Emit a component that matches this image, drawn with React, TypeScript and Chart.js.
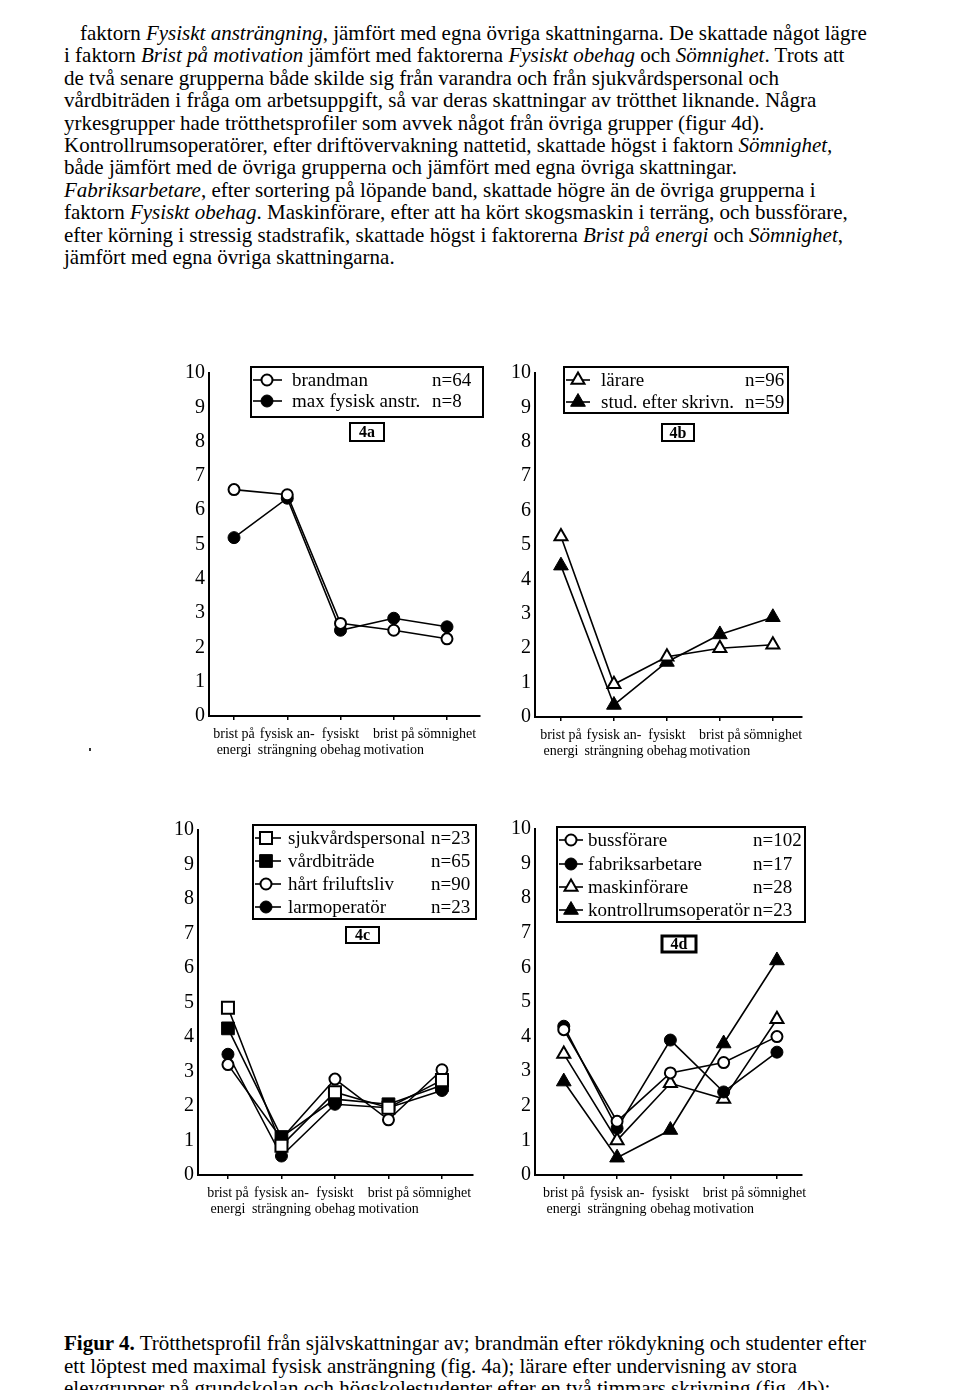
import React, { useEffect, useRef } from "react";
import { Chart, registerables } from "chart.js";

Chart.register(...registerables);

// ---------- data ----------
const categories: string[][] = [
  ["brist på", "energi"],
  ["fysisk an-", "strängning"],
  ["fysiskt", "obehag"],
  ["brist på", "motivation"],
  ["sömnighet"],
];
const yTickValues = [0, 1, 2, 3, 4, 5, 6, 7, 8, 9, 10];

// Figur 4a
const brandman = [6.6, 6.45, 2.7, 2.5, 2.25];
const maxFysiskAnstr = [5.2, 6.35, 2.5, 2.85, 2.6];
// Figur 4b
const larare = [5.25, 0.95, 1.75, 2.0, 2.1];
const studEfterSkrivn = [4.4, 0.35, 1.6, 2.4, 2.9];
// Figur 4c
const sjukvardspersonal = [4.85, 0.85, 2.4, 1.95, 2.75];
const vardbitrade = [4.25, 1.1, 2.2, 2.05, 2.6];
const hartFriluftsliv = [3.2, 1.05, 2.78, 1.6, 3.05];
const larmoperator = [3.5, 0.55, 2.05, 1.95, 2.45];
// Figur 4d
const bussforare = [4.2, 1.55, 2.95, 3.25, 4.0];
const fabriksarbetare = [4.3, 1.35, 3.9, 2.4, 3.55];
const maskinforare = [3.5, 1.0, 2.65, 2.2, 4.5];
const kontrollrumsoperator = [2.7, 0.5, 1.3, 3.8, 6.2];

// ---------- styles ----------
type MarkerKind =
  | "openCircle"
  | "filledCircle"
  | "openTriangle"
  | "filledTriangle"
  | "openSquare"
  | "filledSquare";

const markerStyle: Record<MarkerKind, { shape: "circle" | "triangle" | "rect"; r: number; fill: string; bw: number }> = {
  openCircle: { shape: "circle", r: 5.5, fill: "#fff", bw: 2 },
  filledCircle: { shape: "circle", r: 6, fill: "#000", bw: 1 },
  openTriangle: { shape: "triangle", r: 7.5, fill: "#fff", bw: 2 },
  filledTriangle: { shape: "triangle", r: 8.5, fill: "#000", bw: 1 },
  openSquare: { shape: "rect", r: 8.5, fill: "#fff", bw: 2 },
  filledSquare: { shape: "rect", r: 9, fill: "#000", bw: 1 },
};

interface SeriesDef {
  label: string;
  n: string;
  values: number[];
  marker: MarkerKind;
}

interface Panel {
  tag: string;
  series: SeriesDef[];
  box: { x: number; y: number; w: number; h: number };
  plot: { l: number; r: number; t: number; b: number };
  xMin: number;
  xMax: number;
  legend: { x: number; y: number; w: number; h: number; rows: number[]; line0: number; line1: number; markerX: number; textX: number; nX: number };
  tagBox: { x: number; y: number; w: number; h: number; bw: number };
}

const panels: Panel[] = [
  {
    tag: "4a",
    series: [
      { label: "brandman", n: "n=64", values: brandman, marker: "openCircle" },
      { label: "max fysisk anstr.", n: "n=8", values: maxFysiskAnstr, marker: "filledCircle" },
    ],
    box: { x: 168, y: 355, w: 322, h: 410 },
    plot: { l: 209, r: 480, t: 373, b: 716 },
    xMin: -0.47,
    xMax: 4.62,
    legend: { x: 251, y: 367, w: 232, h: 50, rows: [380, 401], line0: 253, line1: 282, markerX: 267, textX: 292, nX: 432 },
    tagBox: { x: 350, y: 423, w: 34, h: 18, bw: 2 },
  },
  {
    tag: "4b",
    series: [
      { label: "lärare", n: "n=96", values: larare, marker: "openTriangle" },
      { label: "stud. efter skrivn.", n: "n=59", values: studEfterSkrivn, marker: "filledTriangle" },
    ],
    box: { x: 498, y: 355, w: 322, h: 410 },
    plot: { l: 535, r: 802, t: 373, b: 717 },
    xMin: -0.49,
    xMax: 4.55,
    legend: { x: 564, y: 367, w: 224, h: 46, rows: [380, 402], line0: 566, line1: 590, markerX: 578, textX: 601, nX: 745 },
    tagBox: { x: 662, y: 424, w: 32, h: 17, bw: 2 },
  },
  {
    tag: "4c",
    series: [
      { label: "sjukvårdspersonal", n: "n=23", values: sjukvardspersonal, marker: "openSquare" },
      { label: "vårdbiträde", n: "n=65", values: vardbitrade, marker: "filledSquare" },
      { label: "hårt friluftsliv", n: "n=90", values: hartFriluftsliv, marker: "openCircle" },
      { label: "larmoperatör", n: "n=23", values: larmoperator, marker: "filledCircle" },
    ],
    box: { x: 160, y: 812, w: 330, h: 415 },
    plot: { l: 198, r: 473, t: 830, b: 1175 },
    xMin: -0.56,
    xMax: 4.58,
    legend: { x: 253, y: 825, w: 223, h: 94, rows: [838, 861, 884, 907], line0: 255, line1: 281, markerX: 266, textX: 288, nX: 431 },
    tagBox: { x: 346, y: 927, w: 33, h: 16, bw: 2 },
  },
  {
    tag: "4d",
    series: [
      { label: "bussförare", n: "n=102", values: bussforare, marker: "openCircle" },
      { label: "fabriksarbetare", n: "n=17", values: fabriksarbetare, marker: "filledCircle" },
      { label: "maskinförare", n: "n=28", values: maskinforare, marker: "openTriangle" },
      { label: "kontrollrumsoperatör", n: "n=23", values: kontrollrumsoperator, marker: "filledTriangle" },
    ],
    box: { x: 498, y: 812, w: 322, h: 415 },
    plot: { l: 535, r: 802, t: 829, b: 1175 },
    xMin: -0.54,
    xMax: 4.47,
    legend: { x: 557, y: 827, w: 248, h: 95, rows: [840, 864, 887, 910], line0: 559, line1: 583, markerX: 571, textX: 588, nX: 753 },
    tagBox: { x: 662, y: 936, w: 34, h: 16, bw: 3 },
  },
];

const SERIF = '"Liberation Serif", "DejaVu Serif", serif';

function drawMarker(ctx: CanvasRenderingContext2D, m: MarkerKind, x: number, y: number) {
  const st = markerStyle[m];
  ctx.save();
  ctx.beginPath();
  if (st.shape === "circle") {
    ctx.arc(x, y, st.r, 0, Math.PI * 2);
  } else if (st.shape === "triangle") {
    for (let k = 0; k < 3; k++) {
      const a = (k * 2 * Math.PI) / 3;
      const px = x + Math.sin(a) * st.r;
      const py = y - Math.cos(a) * st.r;
      if (k === 0) ctx.moveTo(px, py);
      else ctx.lineTo(px, py);
    }
  } else {
    const s = st.r * Math.SQRT1_2;
    ctx.rect(x - s, y - s, 2 * s, 2 * s);
  }
  ctx.closePath();
  ctx.fillStyle = st.fill;
  ctx.fill();
  ctx.lineWidth = st.bw;
  ctx.strokeStyle = "#000";
  ctx.stroke();
  ctx.restore();
}

function makeDecorPlugin(p: Panel) {
  return {
    id: "panelDecor" + p.tag,
    afterDraw(chart: any) {
      const ctx: CanvasRenderingContext2D = chart.ctx;
      const ox = p.box.x;
      const oy = p.box.y;
      const L = p.legend;
      ctx.save();
      ctx.fillStyle = "#fff";
      ctx.fillRect(L.x - ox, L.y - oy, L.w, L.h);
      ctx.strokeStyle = "#000";
      ctx.lineWidth = 2;
      ctx.strokeRect(L.x - ox, L.y - oy, L.w, L.h);
      p.series.forEach((s, i) => {
        const y = L.rows[i] - oy;
        ctx.beginPath();
        ctx.moveTo(L.line0 - ox, y);
        ctx.lineTo(L.line1 - ox, y);
        ctx.lineWidth = 1.6;
        ctx.strokeStyle = "#000";
        ctx.stroke();
        drawMarker(ctx, s.marker, L.markerX - ox, y);
        ctx.fillStyle = "#000";
        ctx.font = "19px " + SERIF;
        ctx.textBaseline = "middle";
        ctx.textAlign = "left";
        ctx.fillText(s.label, L.textX - ox, y + 1);
        ctx.fillText(s.n, L.nX - ox, y + 1);
      });
      const T = p.tagBox;
      ctx.lineWidth = T.bw;
      ctx.strokeStyle = "#000";
      ctx.strokeRect(T.x - ox, T.y - oy, T.w, T.h);
      ctx.font = "bold 16px " + SERIF;
      ctx.textAlign = "center";
      ctx.textBaseline = "middle";
      ctx.fillStyle = "#000";
      ctx.fillText(p.tag, T.x - ox + T.w / 2, T.y - oy + T.h / 2 + 1);
      ctx.restore();
    },
  };
}

function buildConfig(p: Panel): any {
  const padTop = p.plot.t - p.box.y;
  const padRight = p.box.x + p.box.w - p.plot.r;
  const yW = p.plot.l - p.box.x;
  const xH = p.box.y + p.box.h - p.plot.b;
  return {
    type: "line",
    data: {
      datasets: p.series.map((s) => {
        const st = markerStyle[s.marker];
        return {
          label: s.label,
          data: s.values.map((v, i) => ({ x: i, y: v })),
          borderColor: "#000",
          borderWidth: 1.6,
          tension: 0,
          fill: false,
          pointStyle: st.shape,
          pointRadius: st.r,
          pointBackgroundColor: st.fill,
          pointBorderColor: "#000",
          pointBorderWidth: st.bw,
          clip: false,
        };
      }),
    },
    options: {
      animation: false,
      responsive: false,
      devicePixelRatio: 1,
      events: [],
      layout: { padding: { top: padTop, right: padRight, left: 0, bottom: 0 }, autoPadding: false },
      plugins: { legend: { display: false }, tooltip: { enabled: false }, title: { display: false } },
      scales: {
        x: {
          type: "linear",
          min: p.xMin,
          max: p.xMax,
          afterBuildTicks: (s: any) => {
            s.ticks = categories.map((_, i) => ({ value: i }));
          },
          afterFit: (s: any) => {
            s.height = xH;
          },
          ticks: {
            callback: (v: number) => categories[Math.round(v)] ?? "",
            color: "#000",
            font: { family: SERIF, size: 14, lineHeight: 1.15 },
            maxRotation: 0,
            minRotation: 0,
            autoSkip: false,
            padding: 6,
          },
          grid: { display: true, drawOnChartArea: false, drawTicks: true, tickLength: 4, color: "#000", lineWidth: 1.5 },
          border: { display: true, color: "#000", width: 2 },
        },
        y: {
          min: 0,
          max: 10,
          afterBuildTicks: (s: any) => {
            s.ticks = yTickValues.map((v) => ({ value: v }));
          },
          afterFit: (s: any) => {
            s.width = yW;
          },
          ticks: { color: "#000", font: { family: SERIF, size: 20 }, padding: 4 },
          grid: { display: false, drawTicks: false, tickLength: 0 },
          border: { display: true, color: "#000", width: 2 },
        },
      },
    },
    plugins: [makeDecorPlugin(p)],
  };
}

function PanelChart({ panel }: { panel: Panel }) {
  const ref = useRef<HTMLCanvasElement>(null);
  useEffect(() => {
    const c = ref.current;
    if (!c) return;
    const chart = new Chart(c, buildConfig(panel));
    return () => chart.destroy();
  }, [panel]);
  return (
    <canvas
      ref={ref}
      width={panel.box.w}
      height={panel.box.h}
      style={{ position: "absolute", left: panel.box.x, top: panel.box.y, width: panel.box.w, height: panel.box.h }}
    />
  );
}

const FONT_SIZE = 21;
const lineStyle = (left: number, baseline: number): React.CSSProperties => ({
  position: "absolute",
  left,
  top: baseline - 18,
  whiteSpace: "nowrap",
  fontSize: FONT_SIZE,
  lineHeight: "22px",
  fontFamily: SERIF,
  color: "#000",
});

export default function App() {
  const bodyLines: React.ReactNode[] = [
    <>faktorn <i>Fysiskt ansträngning</i>, jämfört med egna övriga skattningarna. De skattade något lägre</>,
    <>i faktorn <i>Brist på motivation</i> jämfört med faktorerna <i>Fysiskt obehag</i> och <i>Sömnighet</i>. Trots att</>,
    <>de två senare grupperna både skilde sig från varandra och från sjukvårdspersonal och</>,
    <>vårdbiträden i fråga om arbetsuppgift, så var deras skattningar av trötthet liknande. Några</>,
    <>yrkesgrupper hade trötthetsprofiler som avvek något från övriga grupper (figur 4d).</>,
    <>Kontrollrumsoperatörer, efter driftövervakning nattetid, skattade högst i faktorn <i>Sömnighet,</i></>,
    <>både jämfört med de övriga grupperna och jämfört med egna övriga skattningar.</>,
    <><i>Fabriksarbetare</i>, efter sortering på löpande band, skattade högre än de övriga grupperna i</>,
    <>faktorn <i>Fysiskt obehag</i>. Maskinförare, efter att ha kört skogsmaskin i terräng, och bussförare,</>,
    <>efter körning i stressig stadstrafik, skattade högst i faktorerna <i>Brist på energi</i> och <i>Sömnighet</i>,</>,
    <>jämfört med egna övriga skattningarna.</>,
  ];
  const captionLines: React.ReactNode[] = [
    <><b>Figur 4.</b> Trötthetsprofil från självskattningar av; brandmän efter rökdykning och studenter efter</>,
    <>ett löptest med maximal fysisk ansträngning (fig. 4a); lärare efter undervisning av stora</>,
    <>elevgrupper på grundskolan och högskolestudenter efter en två timmars skrivning (fig. 4b);</>,
  ];
  return (
    <div
      style={{
        position: "absolute",
        left: 0,
        top: 0,
        width: 960,
        height: 1390,
        overflow: "hidden",
        background: "#fff",
      }}
    >
      {bodyLines.map((ln, i) => (
        <div key={"b" + i} style={lineStyle(i === 0 ? 80 : 64, 40 + i * 22.4)}>
          {ln}
        </div>
      ))}
      <div style={{ position: "absolute", left: 89, top: 748, width: 2, height: 3, background: "#333" }} />
      {panels.map((p) => (
        <PanelChart key={p.tag} panel={p} />
      ))}
      {captionLines.map((ln, i) => (
        <div key={"c" + i} style={lineStyle(64, 1350 + i * 22.6)}>
          {ln}
        </div>
      ))}
    </div>
  );
}
